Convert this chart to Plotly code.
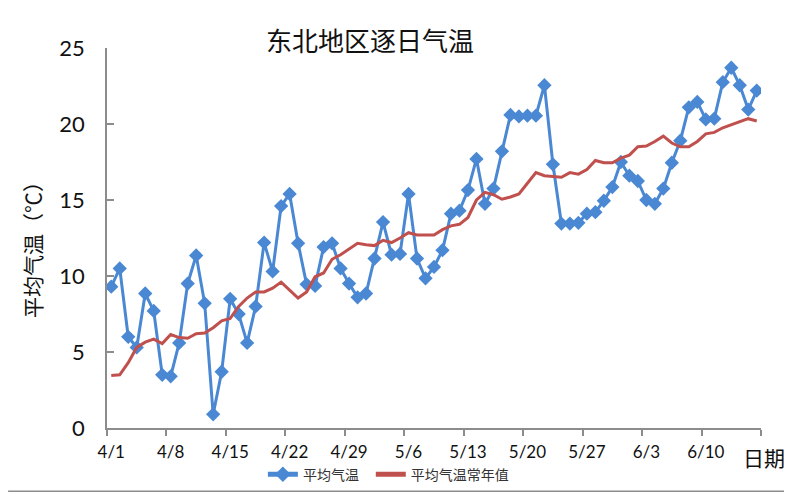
import pandas as pd
import plotly.graph_objects as go

# daily dates 4/1 .. 6/16
dates = [f"{d.month}/{d.day}" for d in pd.date_range("2019-04-01", periods=77)]

avg_temp = [9.3, 10.5, 6.0, 5.3, 8.85, 7.7, 3.5, 3.4, 5.6, 9.5,
            11.35, 8.2, 0.9, 3.7, 8.5, 7.5, 5.6, 8.0, 12.2, 10.3,
            14.6, 15.4, 12.15, 9.45, 9.35, 11.9, 12.15, 10.5, 9.5, 8.6,
            8.85, 11.15, 13.55, 11.4, 11.45, 15.4, 11.15, 9.85, 10.6, 11.7,
            14.1, 14.3, 15.65, 17.7, 14.75, 15.75, 18.2, 20.6, 20.5, 20.55,
            20.55, 22.55, 17.35, 13.45, 13.45, 13.5, 14.1, 14.2, 14.95, 15.85,
            17.5, 16.6, 16.25, 15.0, 14.75, 15.75, 17.45, 18.9, 21.1, 21.45,
            20.3, 20.35, 22.75, 23.7, 22.55, 20.95, 22.2]

normal_temp = [3.45, 3.5, 4.3, 5.3, 5.65, 5.85, 5.55, 6.15, 5.95, 5.9,
               6.2, 6.25, 6.6, 7.05, 7.2, 8.0, 8.55, 8.95, 8.95, 9.2,
               9.6, 9.05, 8.55, 8.95, 9.95, 10.2, 11.1, 11.4, 11.75, 12.15,
               12.05, 12.0, 12.35, 12.2, 12.5, 12.85, 12.7, 12.7, 12.7, 13.05,
               13.3, 13.4, 13.85, 15.0, 15.5, 15.35, 15.05, 15.2, 15.4, 16.1,
               16.8, 16.6, 16.55, 16.5, 16.8, 16.7, 17.0, 17.6, 17.45, 17.45,
               17.75, 17.95, 18.5, 18.55, 18.85, 19.2, 18.75, 18.5, 18.5, 18.85,
               19.35, 19.45, 19.75, 19.95, 20.15, 20.35, 20.2]

y_ticks = [0, 5, 10, 15, 20, 25]

idx = list(range(len(dates)))
num_font = "Lato, 'Noto Sans', sans-serif"
cjk_font = "'Noto Sans CJK SC', sans-serif"

# the page body has an 8px margin, so the figure starts at (8, 8) on screen
OFF = 8
FW, FH = 792 - OFF, 500 - 2 * OFF
# plot area on screen: x 107..761.5, y 48..428.3
L, T = 107 - OFF, 48 - OFF
R, B = FW - (761.5 - OFF), FH - (428.3 - OFF)
W, H = FW - L - R, FH - T - B

def px_x(p):
    return (p - OFF - L) / W

def px_y(p):
    return (FH - B - (p - OFF)) / H

fig = go.Figure()
fig.add_trace(go.Scatter(
    x=idx, y=avg_temp, name="平均气温", mode="lines+markers",
    line=dict(color="#4A88D4", width=3),
    marker=dict(symbol="diamond", size=11, color="#4A88D4"),
    legend="legend",
))
fig.add_trace(go.Scatter(
    x=idx, y=normal_temp, name="平均气温常年值", mode="lines",
    line=dict(color="#C0504D", width=3),
    legend="legend2",
))

legend_style = dict(orientation="h", xanchor="left", yanchor="middle",
                    font=dict(family=cjk_font, size=14, color="#333333"),
                    itemsizing="constant", bgcolor="rgba(0,0,0,0)")

fig.update_layout(
    width=FW, height=FH,
    margin=dict(l=L, r=R, t=T, b=B, autoexpand=False),
    paper_bgcolor="white", plot_bgcolor="white",
    showlegend=True,
    legend=dict(x=px_x(263), y=px_y(475), **legend_style),
    legend2=dict(x=px_x(371), y=px_y(475), **legend_style),
    title=dict(text="东北地区逐日气温", x=(370 - OFF) / FW, y=1 - (42 - OFF) / FH,
               xanchor="center", yanchor="middle", xref="container", yref="container",
               font=dict(family=cjk_font, size=26, color="#111111")),
    xaxis=dict(range=[-0.5, len(dates) - 0.5], tickmode="array",
               tickvals=idx[::7], ticktext=dates[::7], ticks="",
               tickfont=dict(family=num_font, size=17, color="#111111"),
               ticklabelstandoff=8,
               showline=True, linecolor="#8C8C8C", linewidth=1.5,
               showgrid=False, zeroline=False,
               minor=dict(tickmode="linear", tick0=-0.5, dtick=7, ticks="outside",
                          ticklen=6, tickcolor="#8C8C8C", tickwidth=1.5, showgrid=False)),
    yaxis=dict(range=[0, 25], tickvals=y_ticks, ticks="inside", ticklen=7,
               tickcolor="#8C8C8C", tickwidth=1.5,
               tickfont=dict(family=num_font, size=22, color="#111111"),
               ticklabelstandoff=16,
               showline=True, linecolor="#8C8C8C", linewidth=1.5,
               showgrid=False, zeroline=False),
    annotations=[
        dict(text="平均气温（℃）", x=px_x(32), y=px_y(245), xref="paper", yref="paper",
             textangle=-90, showarrow=False, xanchor="center", yanchor="middle",
             font=dict(family=cjk_font, size=21, color="#111111")),
        dict(text="日期", x=px_x(765), y=px_y(457), xref="paper", yref="paper",
             showarrow=False, xanchor="center", yanchor="middle",
             font=dict(family=cjk_font, size=21, color="#111111")),
    ],
    # outer frame: only the right and bottom edges fall inside the figure
    shapes=[
        dict(type="line", xref="paper", yref="paper",
             x0=px_x(789.5), x1=px_x(789.5), y0=px_y(491.5), y1=px_y(OFF),
             line=dict(color="#8C8C8C", width=1.5)),
        dict(type="line", xref="paper", yref="paper",
             x0=px_x(OFF), x1=px_x(789.5), y0=px_y(491.5), y1=px_y(491.5),
             line=dict(color="#8C8C8C", width=1.5)),
    ],
)

fig.write_html("out.html")
